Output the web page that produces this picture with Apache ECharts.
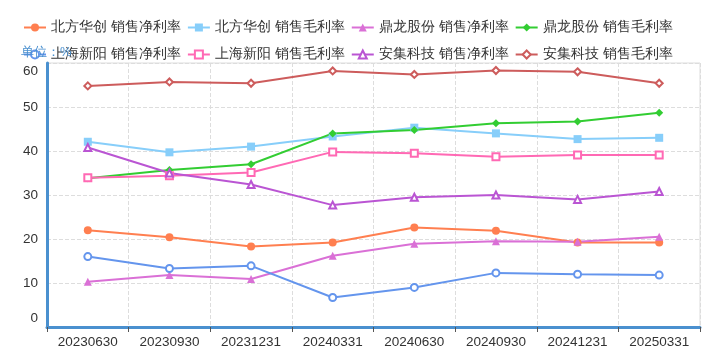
<!DOCTYPE html>
<html>
<head>
<meta charset="utf-8">
<script src="https://cdn.jsdelivr.net/npm/echarts@6/dist/echarts.min.js"></script>
<style>
  html, body { margin: 0; padding: 0; background: #fff; }
  #chart { width: 720px; height: 353px; }
</style>
</head>
<body>
<div id="chart"></div>
<script>
const categories = ['20230630', '20230930', '20231231', '20240331', '20240630', '20240930', '20241231', '20250331'];

const bfhcNet = [22.0, 20.4, 18.3, 19.2, 22.6, 21.9, 19.2, 19.2];
const bfhcGross = [42.1, 39.7, 41.0, 43.3, 45.3, 44.0, 42.7, 43.0];
const dlNet = [10.3, 11.8, 10.9, 16.2, 18.9, 19.5, 19.4, 20.5];
const dlGross = [33.8, 35.7, 37.0, 44.0, 44.8, 46.3, 46.7, 48.7];
const shxyNet = [16.0, 13.3, 13.9, 6.7, 9.0, 12.3, 12.0, 11.8];
const shxyGross = [33.9, 34.4, 35.1, 39.8, 39.5, 38.7, 39.1, 39.1];
const ajNet = [40.8, 35.0, 32.4, 27.7, 29.5, 30.0, 29.0, 30.8];
const ajGross = [54.8, 55.7, 55.4, 58.2, 57.4, 58.3, 58.0, 55.4];

const seriesNames = [
  '北方华创 销售净利率', '北方华创 销售毛利率',
  '鼎龙股份 销售净利率', '鼎龙股份 销售毛利率',
  '上海新阳 销售净利率', '上海新阳 销售毛利率',
  '安集科技 销售净利率', '安集科技 销售毛利率'
];
const seriesData = [bfhcNet, bfhcGross, dlNet, dlGross, shxyNet, shxyGross, ajNet, ajGross];
const colors = ['#ff7f50', '#87cefa', '#da70d6', '#32cd32', '#6495ed', '#ff69b4', '#ba55d3', '#cd5c5c'];
const symbols = ['circle', 'rect', 'triangle', 'diamond', 'emptyCircle', 'emptyRect', 'emptyTriangle', 'emptyDiamond'];

const yTicks = [0, 10, 20, 30, 40, 50, 60];

const chart = echarts.init(document.getElementById('chart'));

const option = {
  animation: false,
  color: colors,
  title: {
    text: '单位：%',
    left: 16,
    top: 41,
    textStyle: { color: '#4a90cf', fontSize: 13, fontWeight: 'normal' }
  },
  legend: {
    left: 18,
    top: 12,
    width: 700,
    itemGap: 6,
    itemWidth: 22,
    itemHeight: 10,
    textStyle: { fontSize: 14, color: '#333', lineHeight: 21 },
    data: seriesNames
  },
  grid: {
    left: 47,
    right: 20,
    top: 63,
    bottom: 26,
    show: true,
    borderColor: '#ddd',
    borderWidth: 1
  },
  xAxis: {
    type: 'category',
    data: categories,
    boundaryGap: true,
    axisLine: { lineStyle: { color: '#4a90cf', width: 3 } },
    axisTick: { show: true, length: 5, lineStyle: { color: '#555' } },
    axisLabel: { color: '#333', fontSize: 13.5, margin: 8 },
    splitLine: { show: true, lineStyle: { color: '#ddd', type: 'dashed' } }
  },
  yAxis: {
    type: 'value',
    min: 0,
    max: 60,
    interval: 10,
    axisLine: { show: true, lineStyle: { color: '#4a90cf', width: 3 } },
    axisTick: { show: false },
    axisLabel: {
      color: '#333',
      fontSize: 13.5,
      margin: 9,
      formatter: v => v === yTicks[0] ? '{b|' + v + '}' : (v === yTicks[yTicks.length - 1] ? '{t|' + v + '}' : v),
      rich: {
        b: { fontSize: 13.5, color: '#333', padding: [0, 0, 18, 0] },
        t: { fontSize: 13.5, color: '#333', padding: [16, 0, 0, 0] }
      }
    },
    splitLine: { show: true, lineStyle: { color: '#ddd', type: 'dashed' } }
  },
  series: seriesData.map((d, i) => ({
    name: seriesNames[i],
    type: 'line',
    data: d,
    symbol: symbols[i],
    symbolSize: i < 4 ? 8 : 7,
    lineStyle: { width: 2 },
    itemStyle: { color: colors[i] }
  }))
};

chart.setOption(option);
</script>
</body>
</html>
